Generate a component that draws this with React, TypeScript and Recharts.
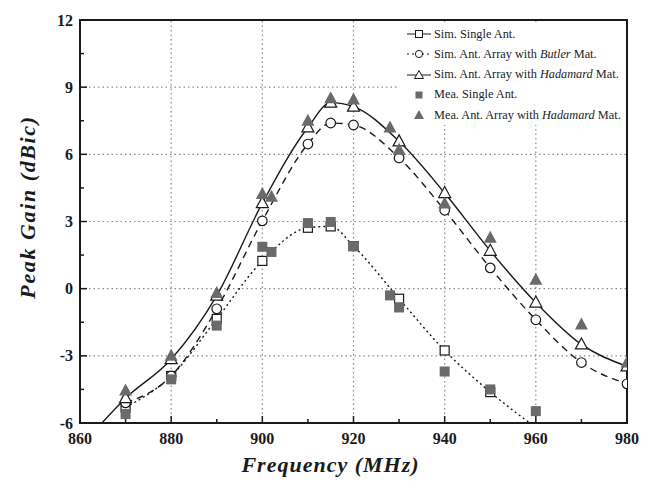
import React from 'react';
import { ComposedChart, Line, Scatter, XAxis, YAxis, ReferenceLine, ReferenceArea } from 'recharts';

// ---- axis ticks ----
const xTicks = [860, 870, 880, 890, 900, 910, 920, 930, 940, 950, 960, 970, 980];
const xMajor = [860, 880, 900, 920, 940, 960, 980];
const yTicks = [-6, -4.5, -3, -1.5, 0, 1.5, 3, 4.5, 6, 7.5, 9, 10.5, 12];
const yMajor = [-6, -3, 0, 3, 6, 9, 12];
const gridX = [880, 900, 920, 940, 960];
const gridY = [-3, 0, 3, 6, 9];

// ---- series ----
const simSingleFreq = [870, 880, 890, 900, 910, 915, 920, 930, 940, 950, 960];
const simSingleGain = [-5.3, -3.9, -1.35, 1.24, 2.72, 2.78, 1.9, -0.45, -2.76, -4.62, -6.2];

const simButlerFreq = [870, 880, 890, 900, 910, 915, 920, 930, 940, 950, 960, 970, 980];
const simButlerGain = [-5.1, -3.9, -0.9, 3.03, 6.46, 7.4, 7.31, 5.84, 3.5, 0.93, -1.39, -3.3, -4.25];

const simHadFreq = [860, 870, 880, 890, 900, 910, 915, 920, 930, 940, 950, 960, 970, 980];
const simHadGain = [-7.1, -4.89, -3.15, -0.31, 3.82, 7.2, 8.31, 8.13, 6.58, 4.27, 1.69, -0.62, -2.49, -3.47];

const meaSingleFreq = [870, 880, 890, 900, 902, 910, 915, 920, 928, 930, 940, 950, 960];
const meaSingleGain = [-5.6, -4.05, -1.65, 1.87, 1.64, 2.93, 2.98, 1.9, -0.3, -0.84, -3.7, -4.5, -5.47];

const meaHadFreq = [870, 880, 890, 900, 902, 910, 915, 920, 928, 930, 940, 950, 960, 970, 980];
const meaHadGain = [-4.55, -3.0, -0.19, 4.23, 4.1, 7.5, 8.5, 8.45, 7.2, 6.2, 3.8, 2.27, 0.4, -1.6, -3.3];

const legendLabels = [
  ['Sim. Single Ant.', '', ''],
  ['Sim. Ant. Array with ', 'Butler', ' Mat.'],
  ['Sim. Ant. Array with ', 'Hadamard', ' Mat.'],
  ['Mea. Single Ant.', '', ''],
  ['Mea. Ant. Array with ', 'Hadamard', ' Mat.'],
];

const zip = (f: number[], g: number[]) => f.map((v, i) => ({ f: v, g: g[i] }));
const simSingle = zip(simSingleFreq, simSingleGain);
const simButler = zip(simButlerFreq, simButlerGain);
const simHad = zip(simHadFreq, simHadGain);
const meaSingle = zip(meaSingleFreq, meaSingleGain);
const meaHad = zip(meaHadFreq, meaHadGain);

const INK = '#1a1a1a';
const GRAYFILL = '#6a6a6a';
const SERIF = '"Liberation Serif", "DejaVu Serif", serif';

const OpenSquare = ({ cx, cy }: any) => (
  <rect x={cx - 4.5} y={cy - 4.5} width={9} height={9} fill="#fff" stroke={INK} strokeWidth={1.2} />
);
const OpenCircle = ({ cx, cy }: any) => (
  <circle cx={cx} cy={cy} r={4.8} fill="#fff" stroke={INK} strokeWidth={1.2} />
);
const OpenTriangle = ({ cx, cy }: any) => (
  <polygon points={`${cx},${cy - 6.5} ${cx - 6},${cy + 4.5} ${cx + 6},${cy + 4.5}`} fill="#fff" stroke={INK} strokeWidth={1.2} />
);
const FilledSquare = ({ cx, cy }: any) => (
  <rect x={cx - 5} y={cy - 5} width={10} height={10} fill={GRAYFILL} />
);
const FilledTriangle = ({ cx, cy }: any) => (
  <polygon points={`${cx},${cy - 7} ${cx - 6.5},${cy + 5} ${cx + 6.5},${cy + 5}`} fill={GRAYFILL} />
);

const makeDot = (Shape: any) => (p: any) => {
  if (p.payload == null || p.payload.g < -6 || p.payload.f < 865) return <g key={`d${p.index}`} />;
  return <Shape key={`d${p.index}`} cx={p.cx} cy={p.cy} />;
};

const XTick = (props: any) => {
  const { x, y, payload } = props;
  const v = payload.value;
  const major = xMajor.includes(v);
  return (
    <g>
      <line x1={x} x2={x} y1={y} y2={y - (major ? 7 : 4)} stroke={INK} strokeWidth={1.5} />
      {major && (
        <text x={x} y={y + 21} textAnchor="middle" fontFamily={SERIF} fontWeight="bold" fontSize={16} fill={INK}>
          {v}
        </text>
      )}
    </g>
  );
};

const YTick = (props: any) => {
  const { x, y, payload } = props;
  const v = payload.value;
  const major = yMajor.includes(v);
  return (
    <g>
      <line x1={x} x2={x + (major ? 7 : 4)} y1={y} y2={y} stroke={INK} strokeWidth={1.5} />
      {major && (
        <text x={x - 7} y={y + 5.5} textAnchor="end" fontFamily={SERIF} fontWeight="bold" fontSize={16} fill={INK}>
          {v}
        </text>
      )}
    </g>
  );
};

const LegendSymbol = ({ i }: { i: number }) => {
  const cx = 14, cy = 7;
  let line: any = null;
  if (i === 0) line = <line x1={2} x2={26} y1={cy} y2={cy} stroke={INK} strokeWidth={1} />;
  if (i === 1) line = <line x1={2} x2={26} y1={cy} y2={cy} stroke={INK} strokeWidth={1} strokeDasharray="2 3" />;
  if (i === 2) line = <line x1={2} x2={26} y1={cy} y2={cy} stroke={INK} strokeWidth={1} />;
  const shapes = [
    <rect x={cx - 3.5} y={cy - 3.5} width={7} height={7} fill="#fff" stroke={INK} strokeWidth={1} />,
    <circle cx={cx} cy={cy} r={3.6} fill="#fff" stroke={INK} strokeWidth={1} />,
    <polygon points={`${cx},${cy - 4.5} ${cx - 4.5},${cy + 3.5} ${cx + 4.5},${cy + 3.5}`} fill="#fff" stroke={INK} strokeWidth={1} />,
    <rect x={cx - 3.5} y={cy - 3.5} width={7} height={7} fill={GRAYFILL} />,
    <polygon points={`${cx},${cy - 5} ${cx - 5},${cy + 4} ${cx + 5},${cy + 4}`} fill={GRAYFILL} />,
  ];
  return (
    <svg width={28} height={14} style={{ display: 'block' }}>
      {line}
      {shapes[i]}
    </svg>
  );
};

export default function App() {
  return (
    <div style={{ position: 'absolute', left: 0, top: 0, width: 656, height: 485, background: '#fff' }}>
      <ComposedChart width={656} height={485} margin={{ top: 20, right: 29, bottom: 0, left: 0 }}>
        <XAxis
          dataKey="f"
          type="number"
          domain={[860, 980]}
          ticks={xTicks}
          interval={0}
          allowDataOverflow
          tickLine={false}
          tickSize={0}
          tickMargin={0}
          axisLine={{ stroke: INK, strokeWidth: 2 }}
          tick={<XTick />}
          height={62}
        />
        <YAxis
          dataKey="g"
          type="number"
          domain={[-6, 12]}
          ticks={yTicks}
          interval={0}
          allowDataOverflow
          tickLine={false}
          tickSize={0}
          tickMargin={0}
          axisLine={{ stroke: INK, strokeWidth: 2 }}
          tick={<YTick />}
          width={80}
        />
        {gridX.map((v) => (
          <ReferenceLine key={`gx${v}`} x={v} stroke="#8a8a8a" strokeWidth={1.2} strokeDasharray="1.5 3" />
        ))}
        {gridY.map((v) => (
          <ReferenceLine key={`gy${v}`} y={v} stroke="#8a8a8a" strokeWidth={1.2} strokeDasharray="1.5 3" />
        ))}
        <Line data={simSingle} dataKey="g" type="monotone" stroke={INK} strokeWidth={1.4} strokeDasharray="2 3"
          dot={makeDot(OpenSquare)} activeDot={false} isAnimationActive={false} />
        <Line data={simButler} dataKey="g" type="monotone" stroke={INK} strokeWidth={1.4} strokeDasharray="7 5"
          dot={makeDot(OpenCircle)} activeDot={false} isAnimationActive={false} />
        <Line data={simHad} dataKey="g" type="monotone" stroke={INK} strokeWidth={1.4}
          dot={makeDot(OpenTriangle)} activeDot={false} isAnimationActive={false} />
        <Scatter data={meaSingle} dataKey="g" shape={(p: any) => <FilledSquare cx={p.cx} cy={p.cy} />} isAnimationActive={false} />
        <Scatter data={meaHad} dataKey="g" shape={(p: any) => <FilledTriangle cx={p.cx} cy={p.cy} />} isAnimationActive={false} />
        <ReferenceArea x1={860} x2={980} y1={-6} y2={12} fill="none" fillOpacity={0} stroke={INK} strokeWidth={2} />
      </ComposedChart>

      <div
        style={{
          position: 'absolute', left: 397, top: 22, width: 229, height: 103, background: '#fff',
          fontFamily: SERIF, fontSize: 12.3, color: '#222',
        }}
      >
        {legendLabels.map((l, i) => (
          <div key={i} style={{ position: 'absolute', left: 8, top: 4 + i * 20.3, display: 'flex', alignItems: 'center', height: 16, whiteSpace: 'nowrap' }}>
            <LegendSymbol i={i} />
            <span style={{ marginLeft: 1 }}>
              {l[0]}
              {l[1] && <i>{l[1]}</i>}
              {l[2]}
            </span>
          </div>
        ))}
      </div>

      <div
        style={{
          position: 'absolute', left: 80, width: 547, top: 452, textAlign: 'center',
          fontFamily: SERIF, fontWeight: 'bold', fontStyle: 'italic', fontSize: 22, letterSpacing: 1, color: INK,
          paddingRight: 46,
          boxSizing: 'border-box',
        }}
      >
        Frequency (MHz)
      </div>
      <div
        style={{
          position: 'absolute', left: 28, top: 207, width: 0, height: 0,
        }}
      >
        <div
          style={{
            position: 'absolute', left: 0, top: 0, transform: 'translate(-50%, -50%) rotate(-90deg)', whiteSpace: 'nowrap',
            fontFamily: SERIF, fontWeight: 'bold', fontStyle: 'italic', fontSize: 22, letterSpacing: 1.6, color: INK,
          }}
        >
          Peak Gain (dBic)
        </div>
      </div>
    </div>
  );
}
